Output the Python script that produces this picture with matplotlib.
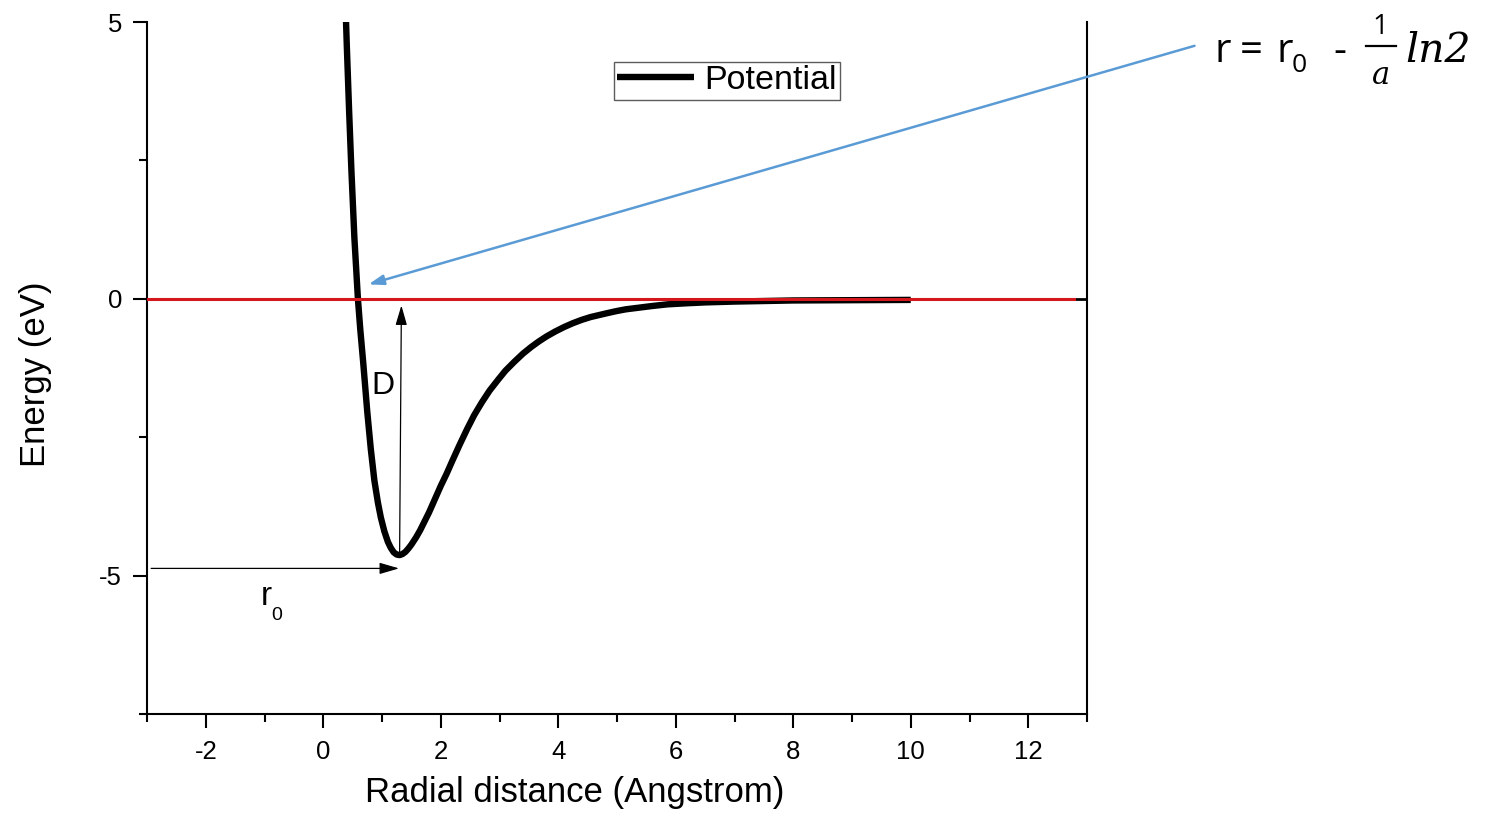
import matplotlib
matplotlib.use("Agg")
import matplotlib.pyplot as plt
from matplotlib.ticker import MultipleLocator
from matplotlib.lines import Line2D

plt.rcParams['font.family'] = ['Liberation Sans', 'DejaVu Sans']
plt.rcParams['axes.unicode_minus'] = False

# Data
r_values = [0.37, 0.40, 0.44, 0.48, 0.53, 0.59, 0.63, 0.68, 0.75, 0.81, 0.87, 0.93,
            0.98, 1.04, 1.10, 1.15, 1.20, 1.25, 1.30, 1.35, 1.40, 1.45, 1.50, 1.58,
            1.65, 1.72, 1.80, 1.90, 2.00, 2.10, 2.20, 2.32, 2.45, 2.57, 2.70, 2.83,
            2.97, 3.10, 3.25, 3.40, 3.54, 3.67, 3.80, 3.95, 4.10, 4.25, 4.40, 4.55,
            4.67, 4.83, 5.00, 5.15, 5.30, 5.60, 5.86, 6.20, 6.50, 7.00, 7.50, 8.00,
            9.00, 10.00]
energy_values = [5.6, 4.6, 3.4, 2.3, 1.1, 0.0, -0.55, -1.15, -2.05, -2.72, -3.28, -3.68,
                 -3.95, -4.20, -4.39, -4.50, -4.58, -4.62, -4.63, -4.61, -4.57, -4.51, -4.44, -4.31,
                 -4.18, -4.03, -3.86, -3.62, -3.38, -3.16, -2.92, -2.64, -2.35, -2.10, -1.87, -1.66,
                 -1.47, -1.30, -1.14, -0.99, -0.87, -0.77, -0.68, -0.59, -0.51, -0.44, -0.38, -0.33,
                 -0.30, -0.26, -0.22, -0.19, -0.17, -0.13, -0.10, -0.08, -0.065, -0.05, -0.04, -0.03,
                 -0.025, -0.02]
series_label = "Potential"
zero_line_x = [-3, 12.78]
r0_value = 1.29
well_depth = -4.63

W, H = 1486, 814
fig = plt.figure(figsize=(W / 100, H / 100), dpi=100)
ax = fig.add_axes([147 / W, 1 - 714 / H, 940 / W, 692 / H])

ax.plot(r_values, energy_values, color='black', lw=4.6, solid_capstyle='butt',
        solid_joinstyle='round', label=series_label, zorder=3)
ax.plot([12.5, 13.0], [0, 0], color='black', lw=2.0, zorder=2)
ax.plot(zero_line_x, [0, 0], color='#d4171c', lw=2.2, zorder=4)

ax.set_xlim(-3, 13)
ax.set_ylim(-7.5, 5)
ax.xaxis.set_major_locator(MultipleLocator(2))
ax.xaxis.set_minor_locator(MultipleLocator(1))
ax.yaxis.set_major_locator(MultipleLocator(5))
ax.yaxis.set_minor_locator(MultipleLocator(2.5))
ax.tick_params(which='major', direction='out', length=10, width=1.5, labelsize=18.5, pad=8)
ax.tick_params(which='minor', direction='out', length=5.5, width=1.5)
ax.tick_params(axis='x', which='major', pad=9)
ax.spines['top'].set_visible(False)
for s in ['left', 'bottom', 'right']:
    ax.spines[s].set_linewidth(1.5)

ax.set_xlabel("Radial distance (Angstrom)", fontsize=25)
ax.xaxis.set_label_coords((574.5 - 147) / 940, (714 - 776) / 692)
ax.set_ylabel("Energy (eV)", fontsize=25)
ax.yaxis.set_label_coords((52 - 147) / 940, (714 - 374) / 692)

arrow_props = dict(arrowstyle='-|>,head_length=1.2,head_width=0.35',
                   color='#555555', lw=0.9, shrinkA=0, shrinkB=0,
                   fc='black', ec='black')
# r0 arrow
ax.annotate("", xy=(r0_value, -4.87), xytext=(-2.93, -4.87),
            arrowprops=arrow_props, zorder=5)
ax.text(-1.07, -5.53, "r", fontsize=24, ha='left', va='baseline')
ax.text(-0.88, -5.80, "0", fontsize=14, ha='left', va='baseline')

# D arrow
ax.annotate("", xy=(1.33, -0.12), xytext=(1.30, well_depth + 0.06),
            arrowprops=arrow_props, zorder=5)
ax.text(1.01, -1.58, "D", fontsize=23, ha='center', va='center')

# blue arrow from formula
ax.annotate("", xy=(0.77, 0.26), xytext=(14.83, 4.57),
            arrowprops=dict(arrowstyle='-|>,head_length=0.9,head_width=0.3',
                            color='#5b9bd5', lw=1.8, shrinkA=0, shrinkB=0),
            annotation_clip=False, zorder=6)

# formula  r = r0 - (1/a) ln2
def ftext(px, py, s, **kw):
    fig.text(px / W, 1 - py / H, s, **kw)

ftext(1215, 62, "r", fontsize=29, family='Open Sans', va='baseline')
ftext(1240, 62, "=", fontsize=29, family='Open Sans', va='baseline')
ftext(1276, 62, "r", fontsize=29, family='Open Sans', va='baseline')
ftext(1292, 72, "0", fontsize=19, family='Open Sans', va='baseline')
ftext(1333, 62, "-", fontsize=29, family='Open Sans', va='baseline')
ftext(1380, 34, "1", fontsize=20, family='Open Sans', va='baseline', ha='center')
fig.add_artist(Line2D([1366 / W, 1396 / W], [1 - 46 / H, 1 - 46 / H], color='black', lw=1.6))
ftext(1381, 84, "a", fontsize=22, family='DejaVu Serif', style='italic', va='baseline', ha='center')
ftext(1405, 62, "ln2", fontsize=29.5, family='DejaVu Serif', style='italic', va='baseline')

leg = ax.legend(loc='upper left', bbox_to_anchor=((614 - 147) / 940, (714 - 62) / 692),
                borderaxespad=0, fontsize=24.5, frameon=True, fancybox=False,
                handlelength=2.25, handletextpad=0.3, borderpad=0.1)
leg.get_frame().set_edgecolor('#333333')
leg.get_frame().set_linewidth(1.0)

fig.savefig("out.png", dpi=100)
